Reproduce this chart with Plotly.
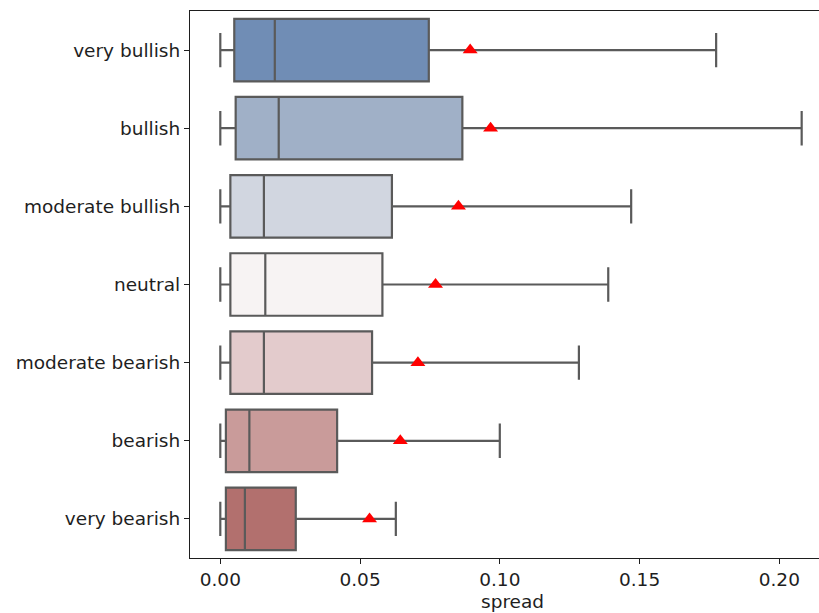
import plotly.graph_objects as go

categories = ["very bullish", "bullish", "moderate bullish", "neutral",
              "moderate bearish", "bearish", "very bearish"]
lower = [0.0, 0.0, 0.0, 0.0, 0.0, 0.0, 0.0]
q1 = [0.0050, 0.0055, 0.0036, 0.0036, 0.0036, 0.0020, 0.0020]
median = [0.0195, 0.0209, 0.0156, 0.0161, 0.0156, 0.0104, 0.0088]
q3 = [0.0746, 0.0866, 0.0614, 0.0580, 0.0543, 0.0418, 0.0270]
upper = [0.1774, 0.2080, 0.1470, 0.1388, 0.1283, 0.1000, 0.0628]
mean = [0.0894, 0.0967, 0.0852, 0.0770, 0.0707, 0.0644, 0.0534]
colors = ["#708db5", "#a0b0c7", "#d1d6e0", "#f7f3f3", "#e3cbcc", "#c99b9a", "#b2706e"]

LINE = "#5a5a5a"
TXT = "#1e1e1e"
FS = 18.5
fig = go.Figure()
for i, cat in enumerate(categories):
    fig.add_trace(go.Box(
        y=[cat], q1=[q1[i]], median=[median[i]], q3=[q3[i]],
        lowerfence=[lower[i]], upperfence=[upper[i]],
        orientation="h", fillcolor=colors[i],
        line=dict(color=LINE, width=2.2), width=0.8, whiskerwidth=0.55,
        boxpoints=False, showlegend=False, hoverinfo="skip",
    ))

fig.add_trace(go.Scatter(
    x=mean, y=categories, mode="markers",
    marker=dict(symbol="triangle-up", color="red", size=13, line=dict(width=0)),
    showlegend=False,
))

fig.update_layout(
    width=819, height=613,
    margin=dict(l=190, r=0, t=11, b=55),
    plot_bgcolor="white", paper_bgcolor="white",
    boxmode="overlay",
    font=dict(family="DejaVu Sans", size=FS, color=TXT),
)
fig.update_xaxes(
    range=[-0.01084, 0.2142], tickvals=[0.0, 0.05, 0.10, 0.15, 0.20],
    ticktext=["0.00", "0.05", "0.10", "0.15", "0.20"],
    showgrid=False, zeroline=False, showline=True, linecolor=TXT, linewidth=1.2,
    mirror=True, ticks="outside", ticklen=5, tickcolor=TXT, tickwidth=1,
    tickfont=dict(size=FS),
)
fig.update_yaxes(
    categoryorder="array", categoryarray=categories, range=[6.5, -0.5],
    showgrid=False, zeroline=False, showline=True, linecolor=TXT, linewidth=1.2,
    mirror=False, ticks="outside", ticklen=5, tickcolor=TXT, tickwidth=1,
    tickfont=dict(size=FS),
)
fig.add_annotation(
    text="spread", xref="paper", yref="paper",
    x=(512.5 - 190) / 629, y=-(601 - 558) / 547,
    xanchor="center", yanchor="middle", showarrow=False,
    font=dict(family="DejaVu Sans", size=FS, color=TXT),
)
fig.write_html("out.html")
